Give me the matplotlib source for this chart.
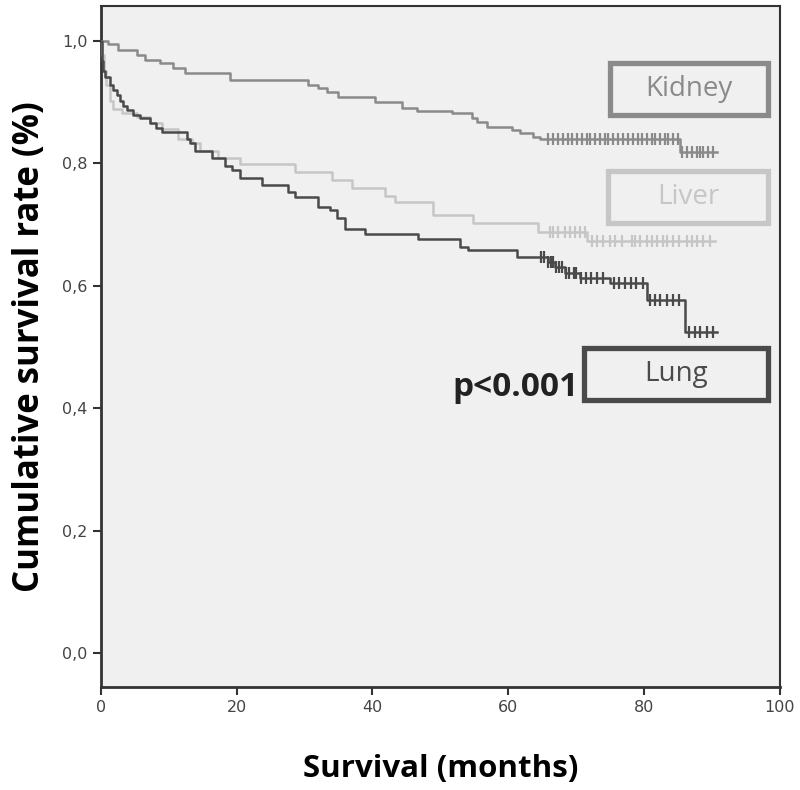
"""Kaplan-Meier style survival curves for kidney, liver and lung."""

import numpy as np
from matplotlib import pyplot as plt
from matplotlib.patches import Rectangle
from matplotlib.ticker import FuncFormatter

# step curves: time (months) where each new level starts, and survival level
kidney_t = [0, 1.0, 2.5, 5.3, 6.5, 8.7, 10.6, 12.4, 19.0, 30.5, 32.0, 33.3,
            34.9, 40.4, 44.3, 46.5, 51.7, 54.6, 55.4, 56.8, 60.5, 61.7, 63.6,
            64.7, 85.3]
kidney_s = [1.0, 0.995, 0.984, 0.976, 0.968, 0.963, 0.956, 0.947, 0.936,
            0.927, 0.922, 0.916, 0.908, 0.900, 0.890, 0.885, 0.882, 0.874,
            0.867, 0.859, 0.854, 0.849, 0.843, 0.839, 0.818]
kidney_end = 90.7
kidney_cens = [65.8, 66.6, 67.3, 68.0, 68.8, 69.4, 70.1, 70.8, 71.6, 72.0,
               72.8, 73.5, 74.2, 74.7, 75.4, 76.1, 76.9, 77.6, 78.4, 79.1,
               79.7, 80.4, 81.1, 81.6, 82.3, 83.1, 83.5, 84.2, 85.0, 85.6,
               86.3, 87.0, 87.8, 88.2, 88.7, 89.4, 90.1]

liver_t = [0, 0.15, 0.4, 0.7, 1.3, 1.8, 3.1, 5.3, 7.2, 9.0, 11.3, 13.4, 14.6,
           17.2, 20.5, 28.6, 34.0, 37.0, 41.8, 43.3, 48.9, 54.8, 64.4, 71.6]
liver_s = [1.0, 0.976, 0.951, 0.927, 0.902, 0.889, 0.881, 0.875, 0.866,
           0.856, 0.840, 0.832, 0.820, 0.809, 0.799, 0.785, 0.773, 0.760,
           0.747, 0.736, 0.715, 0.702, 0.688, 0.672]
liver_end = 90.4
liver_cens = [66.1, 66.6, 67.3, 68.3, 69.1, 69.8, 70.5, 71.3, 72.3, 73.0,
              73.9, 75.0, 75.7, 76.7, 78.2, 78.6, 79.4, 80.4, 81.1, 81.9,
              82.8, 83.4, 84.2, 85.2, 86.3, 87.0, 87.8, 88.7, 89.7]

lung_t = [0, 0.15, 0.3, 0.6, 1.3, 1.8, 2.4, 2.8, 3.2, 3.8, 4.7, 5.7, 7.2, 8.1,
          9.0, 12.7, 13.1, 13.8, 16.3, 18.3, 19.3, 20.5, 23.7, 27.5, 28.6,
          32.0, 33.7, 34.8, 35.9, 38.9, 46.7, 52.9, 54.0, 61.3, 65.8, 66.9,
          68.3, 70.5, 75.0, 80.4, 86.0]
lung_s = [1.0, 0.967, 0.951, 0.940, 0.927, 0.919, 0.911, 0.902, 0.894, 0.886,
          0.878, 0.873, 0.866, 0.858, 0.850, 0.840, 0.832, 0.820, 0.809,
          0.796, 0.788, 0.775, 0.764, 0.752, 0.744, 0.728, 0.723, 0.711,
          0.693, 0.684, 0.676, 0.663, 0.658, 0.646, 0.638, 0.630, 0.621,
          0.613, 0.604, 0.576, 0.524]
lung_end = 90.7
lung_cens = [64.8, 65.3, 65.9, 66.3, 66.6, 67.0, 67.5, 67.9, 68.5, 69.0,
             69.6, 70.0, 70.7, 71.4, 72.2, 73.0, 74.0, 75.5, 76.3, 77.2,
             78.0, 78.8, 79.8, 80.8, 81.6, 82.4, 83.3, 84.2, 85.2, 86.6,
             87.5, 88.2, 89.2, 90.2]

groups = ["Kidney", "Liver", "Lung"]
colors = {"Kidney": "#8a8a8a", "Liver": "#c6c6c6", "Lung": "#4a4a4a"}


def draw_curve(ax, times, surv, end, cens, color):
    t = np.append(times, end)
    s = np.append(surv, surv[-1])
    ax.step(t, s, where="post", color=color, lw=1.8, zorder=3)
    idx = np.searchsorted(times, cens, side="right") - 1
    ax.plot(cens, np.asarray(surv)[idx], ls="none", marker="|", ms=8,
            mew=1.6, color=color, zorder=3)


fig = plt.figure(figsize=(8, 7.9), dpi=100)
ax = fig.add_axes([0.126, 0.130, 0.849, 0.862])
ax.set_facecolor("#f0f0f0")

draw_curve(ax, kidney_t, kidney_s, kidney_end, kidney_cens, colors["Kidney"])
draw_curve(ax, liver_t, liver_s, liver_end, liver_cens, colors["Liver"])
draw_curve(ax, lung_t, lung_s, lung_end, lung_cens, colors["Lung"])

# group label boxes
boxes = {"Kidney": (75.0, 0.878), "Liver": (74.7, 0.702), "Lung": (71.1, 0.413)}
for name in groups:
    x0, y0 = boxes[name]
    w = 98.3 - x0
    ax.add_patch(Rectangle((x0, y0), w, 0.085, fill=False, lw=3.8,
                           edgecolor=colors[name], zorder=4))
    ax.text(x0 + w / 2, y0 + 0.0425, name, ha="center", va="center",
            fontsize=20, family="Open Sans", color=colors[name], zorder=4)

ax.text(61.0, 0.434, "p<0.001", ha="center", va="center", fontsize=24,
        family="Open Sans", fontweight="bold", color="#222222")

ax.set_xlim(0, 100)
ax.set_ylim(-0.056, 1.056)
ax.set_xticks([0, 20, 40, 60, 80, 100])
ax.set_yticks([0.0, 0.2, 0.4, 0.6, 0.8, 1.0])
ax.yaxis.set_major_formatter(FuncFormatter(lambda v, _: f"{v:.1f}".replace(".", ",")))
ax.tick_params(direction="out", length=6, width=1.5, color="#333333",
               labelsize=11.5, labelcolor="#444444")
for side in ["left", "bottom", "top", "right"]:
    ax.spines[side].set_color("#333333")
    ax.spines[side].set_linewidth(2 if side in ("left", "bottom") else 1.5)

ax.set_xlabel("Survival (months)", fontsize=22.5, fontweight="bold",
              family="Open Sans", labelpad=28)
ax.set_ylabel("Cumulative survival rate (%)", fontsize=25, fontweight="bold",
              family="Open Sans", labelpad=10)

fig.savefig("out.png", dpi=100)
